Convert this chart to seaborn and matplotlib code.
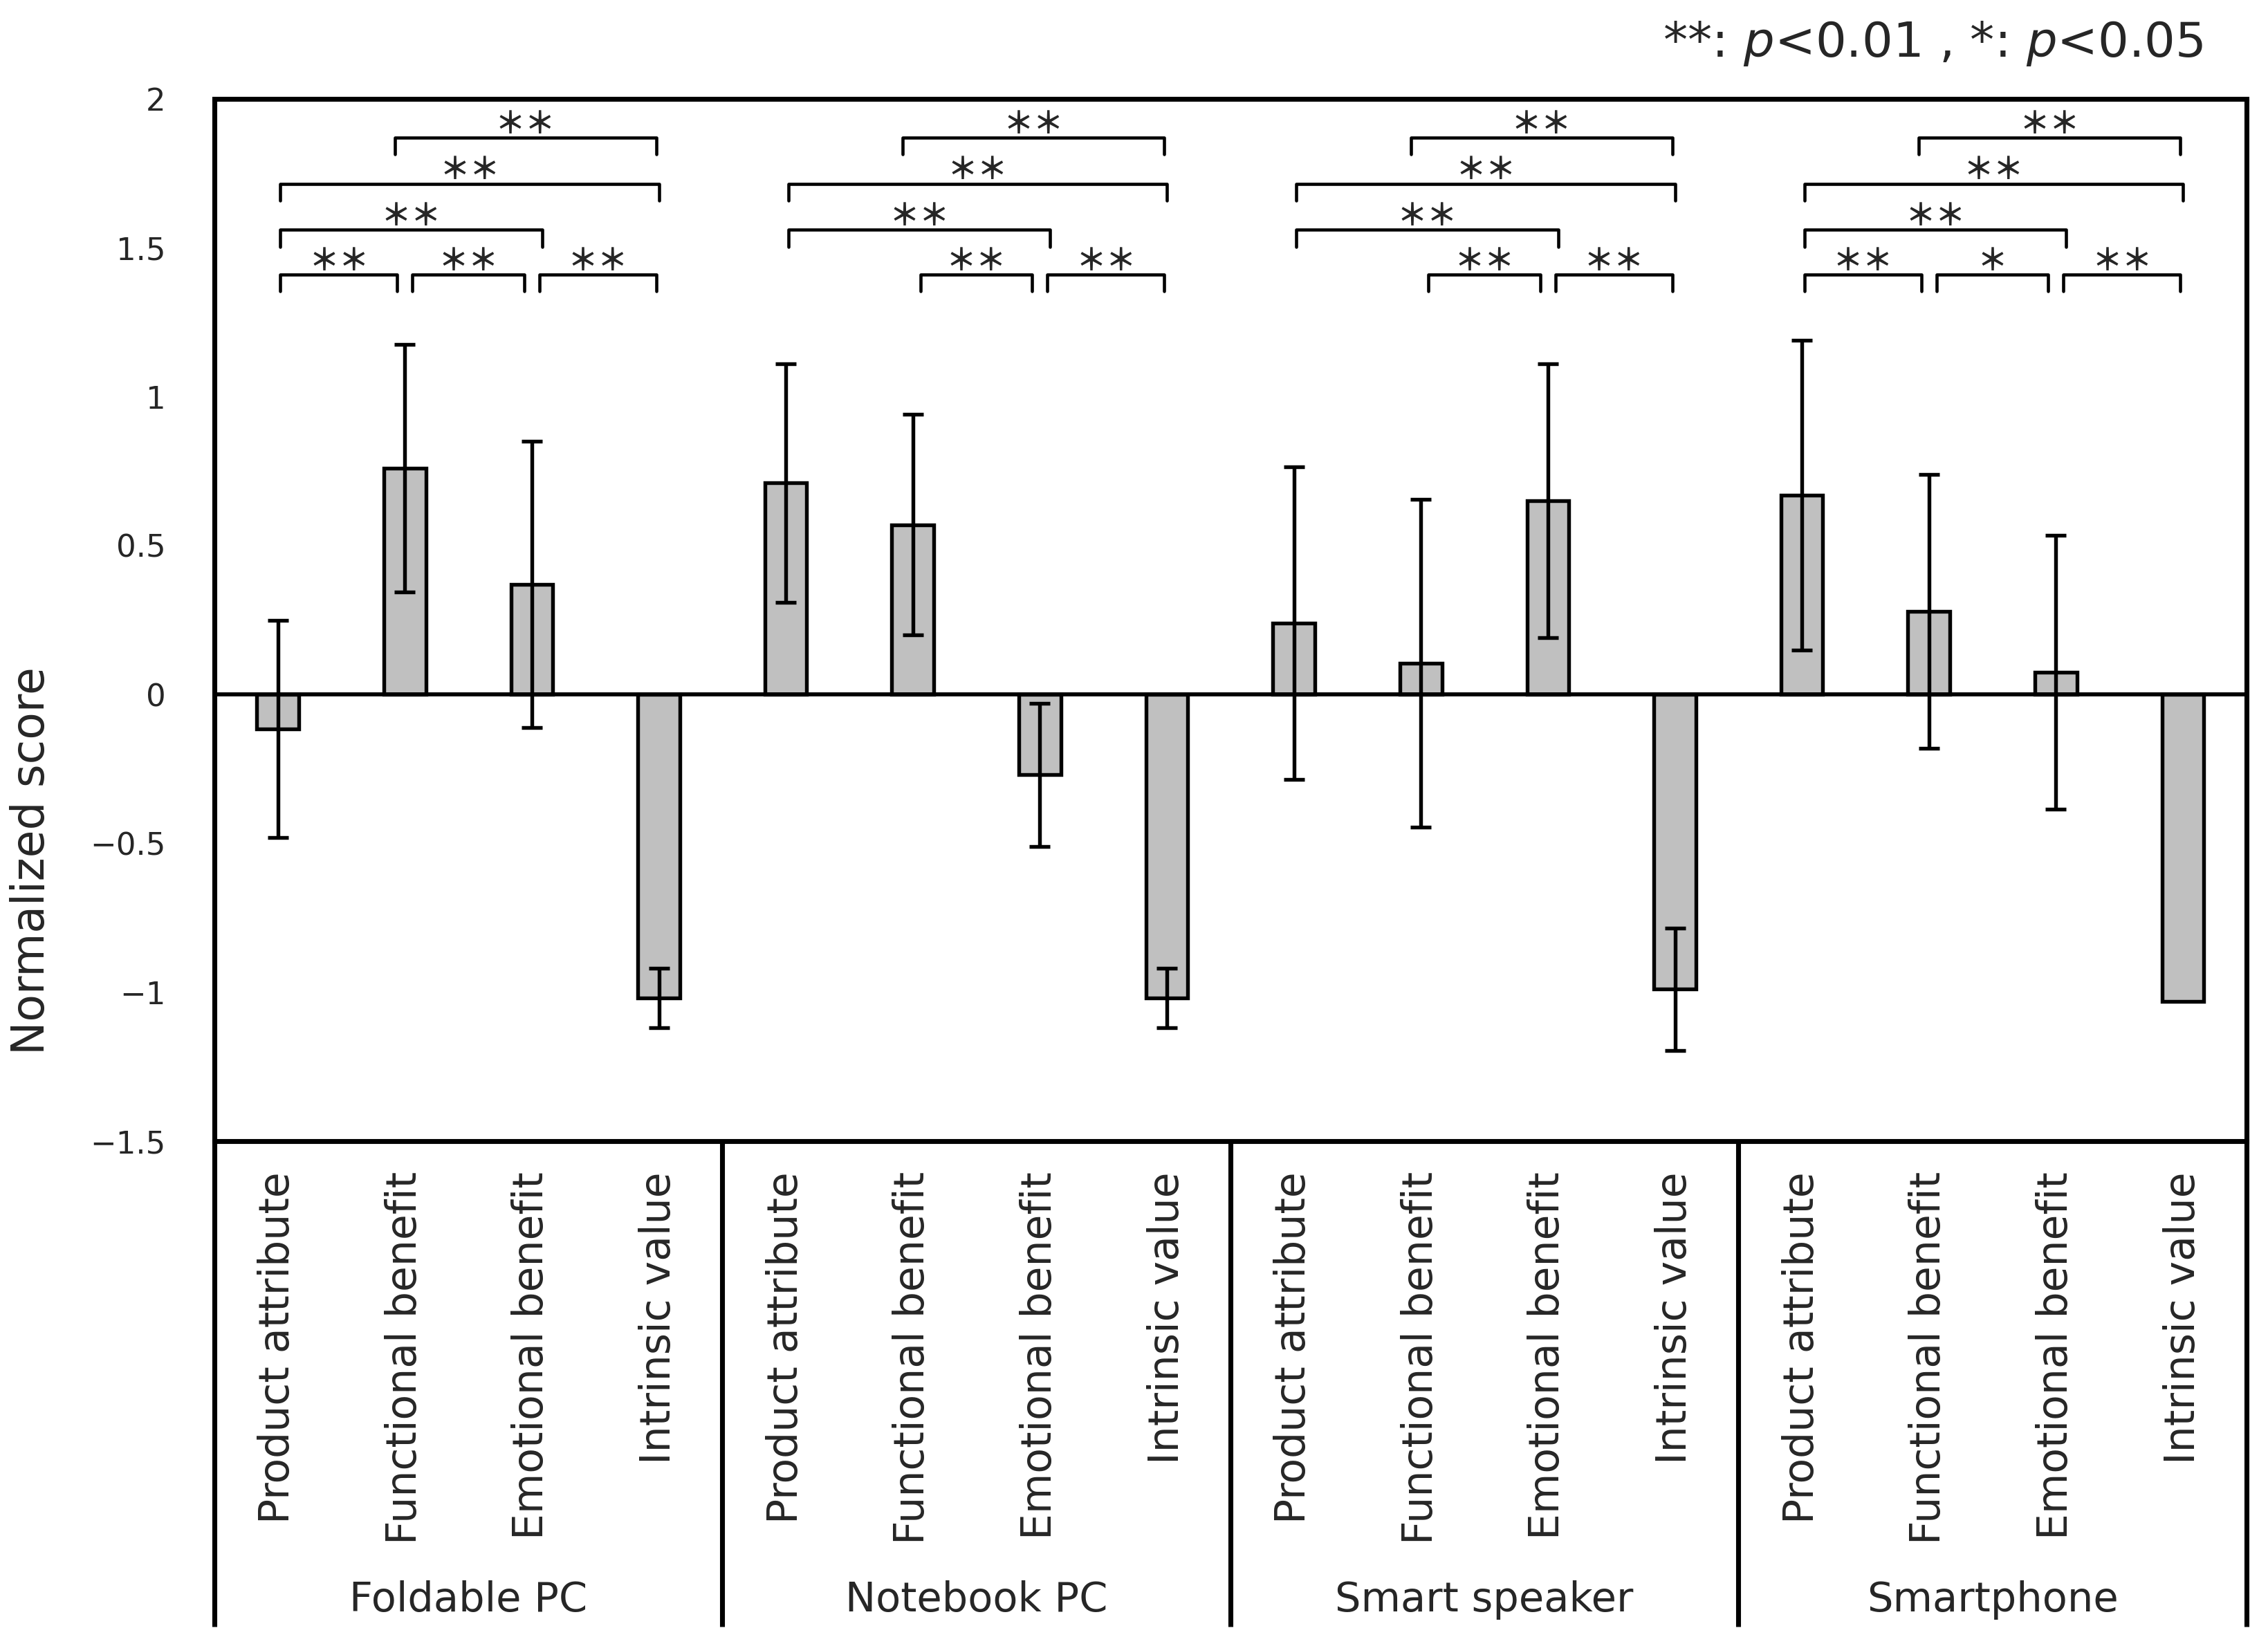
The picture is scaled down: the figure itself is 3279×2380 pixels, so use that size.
import matplotlib
matplotlib.use("Agg")
import matplotlib.pyplot as plt
import matplotlib.transforms as mtransforms
import numpy as np
import pandas as pd
import seaborn as sns

# product groups and the four value levels shown for each
products = ["Foldable PC", "Notebook PC", "Smart speaker", "Smartphone"]
levels = ["Product attribute", "Functional benefit", "Emotional benefit", "Intrinsic value"]

# mean normalized scores
foldable_pc = [-0.115, 0.76, 0.37, -1.02]
notebook_pc = [0.71, 0.57, -0.27, -1.02]
smart_speaker = [0.24, 0.105, 0.65, -0.99]
smartphone = [0.67, 0.28, 0.075, -1.03]

# error bar half-lengths
foldable_pc_err = [0.365, 0.415, 0.48, 0.10]
notebook_pc_err = [0.40, 0.37, 0.24, 0.10]
smart_speaker_err = [0.525, 0.55, 0.46, 0.205]
smartphone_err = [0.52, 0.46, 0.46, 0.0]

# significance brackets per product: (from level, to level, row, mark)
foldable_pc_sig = [(0, 1, 0, "＊＊"), (1, 2, 0, "＊＊"), (2, 3, 0, "＊＊"),
                   (0, 2, 1, "＊＊"), (0, 3, 2, "＊＊"), (1, 3, 3, "＊＊")]
notebook_pc_sig = [(1, 2, 0, "＊＊"), (2, 3, 0, "＊＊"),
                   (0, 2, 1, "＊＊"), (0, 3, 2, "＊＊"), (1, 3, 3, "＊＊")]
smart_speaker_sig = [(1, 2, 0, "＊＊"), (2, 3, 0, "＊＊"),
                     (0, 2, 1, "＊＊"), (0, 3, 2, "＊＊"), (1, 3, 3, "＊＊")]
smartphone_sig = [(0, 1, 0, "＊＊"), (1, 2, 0, "＊"), (2, 3, 0, "＊＊"),
                  (0, 2, 1, "＊＊"), (0, 3, 2, "＊＊"), (1, 3, 3, "＊＊")]
bracket_rows = [1.41, 1.56, 1.715, 1.87]

y_ticks = [-1.5, -1, -0.5, 0, 0.5, 1, 1.5, 2]
y_tick_labels = ["\u22121.5", "\u22121", "\u22120.5", "0", "0.5", "1", "1.5", "2"]

scores = [foldable_pc, notebook_pc, smart_speaker, smartphone]
errors = [foldable_pc_err, notebook_pc_err, smart_speaker_err, smartphone_err]
sigs = [foldable_pc_sig, notebook_pc_sig, smart_speaker_sig, smartphone_sig]

df = pd.DataFrame({
    "product": np.repeat(products, 4),
    "level": levels * 4,
    "score": np.concatenate(scores),
    "err": np.concatenate(errors),
})
df["key"] = df["product"] + "|" + df["level"]

sns.set_style("white")
plt.rcParams["font.family"] = ["DejaVu Sans"]

fig = plt.figure(figsize=(3279 / 300, 2380 / 300), dpi=300)
ax = fig.add_axes([0.0945, 0.3067, 0.8960, 0.6332])

sns.barplot(data=df, x="key", y="score", order=df["key"], color="#c0c0c0",
            saturation=1, edgecolor="black", linewidth=1.3, width=0.33,
            errorbar=None, ax=ax, zorder=3)

xpos = np.arange(len(df))
has_err = df["err"].values > 0
ax.errorbar(xpos[has_err], df["score"].values[has_err], yerr=df["err"].values[has_err],
            fmt="none", ecolor="black", elinewidth=1.3, capsize=3.6, capthick=1.3, zorder=4)

ax.axhline(0, color="black", lw=1.4, zorder=5)
ax.set_ylim(-1.5, 2)
ax.set_xlim(-0.5, 15.5)
ax.set_yticks(y_ticks)
ax.set_yticklabels(y_tick_labels, fontsize=10.8)
ax.set_xticks(xpos)
ax.set_xticklabels(df["level"], rotation=90, fontsize=14.4)
ax.tick_params(axis="x", length=0, pad=10.6)
ax.tick_params(axis="y", length=0, pad=16.8)
ax.set_xlabel("")
ax.set_ylabel("")

for side in ["left", "right"]:
    ax.spines[side].set_visible(False)
for side in ["top", "bottom"]:
    ax.spines[side].set_linewidth(1.7)
    ax.spines[side].set_color("black")

# full-height frame lines and group separators reaching into the label area
bottom = -0.4658
blend = mtransforms.blended_transform_factory(ax.transData, ax.transAxes)
for x in [-0.5, 3.5, 7.5, 11.5, 15.5]:
    top = 1 if x in (-0.5, 15.5) else 0
    ax.plot([x, x], [top, bottom], transform=blend, color="black", lw=1.7,
            clip_on=False, solid_capstyle="butt", zorder=6)

for g, name in enumerate(products):
    ax.text(g * 4 + 1.5, -0.44, name, transform=blend, ha="center", va="center",
            fontsize=14.2)

# significance brackets
drop = 0.056
for g, sig in enumerate(sigs):
    for a, b, row, mark in sig:
        if row == 0:
            lo = 0.06 if a > 0 else 0.02
            hi = -0.06 if b < 3 else -0.02
        elif row == 1:
            lo, hi = 0.02, 0.08
        elif row == 2:
            lo, hi = 0.02, 0.0
        else:
            lo, hi = -0.08, -0.02
        x0 = g * 4 + a + lo
        x1 = g * 4 + b + hi
        y = bracket_rows[row]
        ax.plot([x0, x0, x1, x1], [y - drop, y, y, y - drop], color="black", lw=1.1,
                zorder=6)
        ax.text((x0 + x1) / 2, y + 0.045, mark, ha="center", va="center",
                fontsize=10.5, fontweight="bold",
                family=["Noto Sans CJK JP", "DejaVu Sans"], zorder=7)

fig.text(0.014, 0.477, "Normalized score", rotation=90, ha="center", va="center",
         fontsize=15.5)
fig.text(0.9713, 0.9735, r"**: $p$<0.01 , *: $p$<0.05", ha="right", va="center",
         fontsize=16.9)

fig.savefig("out.png", dpi=300)
